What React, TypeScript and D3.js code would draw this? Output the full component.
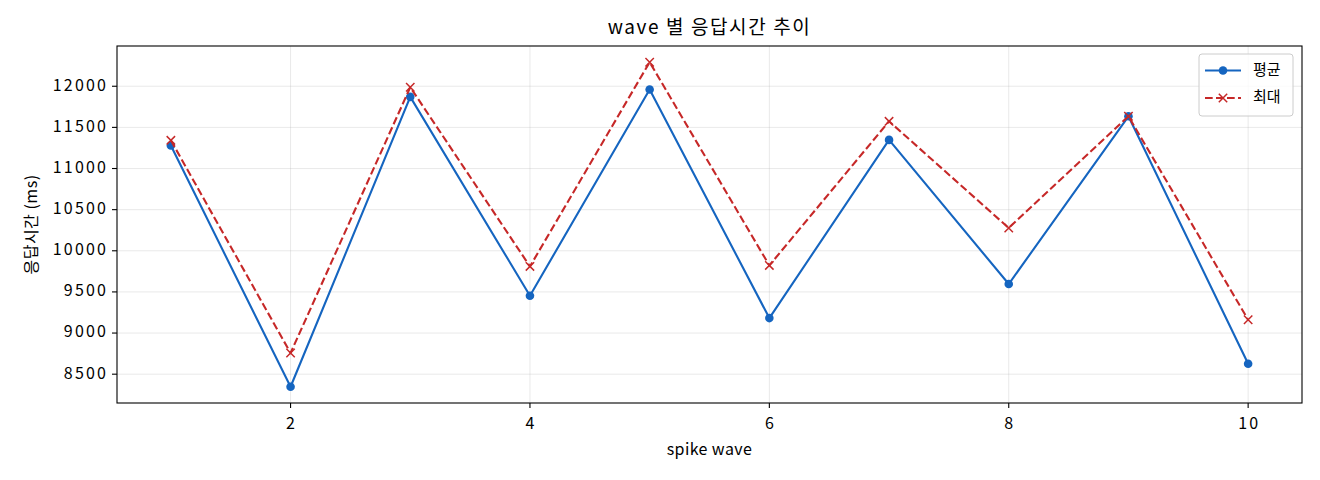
import { useEffect } from 'react'
import * as d3 from 'd3'

// spike wave 번호별 응답시간 (ms)
const waves = [1, 2, 3, 4, 5, 6, 7, 8, 9, 10]
const avgMs = [11279, 8347, 11871, 9454, 11960, 9182, 11348, 9596, 11635, 8627]
const maxMs = [11343, 8757, 11988, 9810, 12292, 9822, 11574, 10277, 11635, 9162]
const xTicks = [2, 4, 6, 8, 10]
const yTicks = [8500, 9000, 9500, 10000, 10500, 11000, 11500, 12000]
const SERIES = [
  { name: '평균', values: avgMs, color: '#1565c0', dash: null as string | null, marker: 'o' },
  { name: '최대', values: maxMs, color: '#c62828', dash: '7.7 3.3', marker: 'x' },
]

const W = 1320
const H = 480
const M = { t: 46, r: 18, b: 77, l: 117 }
const FONT = '"Noto Sans CJK KR", "Noto Sans", sans-serif'

export default function App() {
  useEffect(() => {
    document.body.style.margin = '0'
  }, [])

  const x0 = d3.min(waves)!
  const x1 = d3.max(waves)!
  const xPad = (x1 - x0) * 0.05
  const x = d3.scaleLinear().domain([x0 - xPad, x1 + xPad]).range([M.l, W - M.r])

  const all = [...avgMs, ...maxMs]
  const y0 = d3.min(all)!
  const y1 = d3.max(all)!
  const yPad = (y1 - y0) * 0.05
  const y = d3.scaleLinear().domain([y0 - yPad, y1 + yPad]).range([H - M.b, M.t])

  const line = d3.line<number>().x((_, i) => x(waves[i])).y((v) => y(v))

  const top = M.t
  const bottom = H - M.b
  const left = M.l
  const right = W - M.r

  // legend placement (upper right)
  const lgX = 1199
  const lgY = 54
  const lgW = 94
  const lgH = 62
  const rowY = [lgY + 16.5, lgY + 44]
  const tickLS = 2.2

  return (
    <svg width={W} height={H} style={{ display: 'block', background: '#fff' }} fontFamily={FONT}>
      <rect width={W} height={H} fill="#fff" />

      {/* grid */}
      {xTicks.map((t) => (
        <line key={'gx' + t} x1={x(t)} x2={x(t)} y1={top} y2={bottom} stroke="#b0b0b0" strokeOpacity={0.35} strokeWidth={0.8} />
      ))}
      {yTicks.map((t) => (
        <line key={'gy' + t} x1={left} x2={right} y1={y(t)} y2={y(t)} stroke="#b0b0b0" strokeOpacity={0.35} strokeWidth={0.8} />
      ))}

      {/* series */}
      {SERIES.map((s) => (
        <g key={s.name}>
          <path d={line(s.values)!} fill="none" stroke={s.color} strokeWidth={2.1} strokeDasharray={s.dash ?? undefined} strokeLinejoin="round" />
          {s.values.map((v, i) =>
            s.marker === 'o' ? (
              <circle key={i} cx={x(waves[i])} cy={y(v)} r={4.3} fill={s.color} />
            ) : (
              <path key={i} d={`M${x(waves[i]) - 4.2},${y(v) - 4.2}L${x(waves[i]) + 4.2},${y(v) + 4.2}M${x(waves[i]) - 4.2},${y(v) + 4.2}L${x(waves[i]) + 4.2},${y(v) - 4.2}`} stroke={s.color} strokeWidth={1.5} fill="none" />
            )
          )}
        </g>
      ))}

      {/* frame */}
      <rect x={left} y={top} width={right - left} height={bottom - top} fill="none" stroke="#000" strokeWidth={1.1} />

      {/* x axis */}
      {xTicks.map((t) => (
        <g key={'xt' + t}>
          <line x1={x(t)} x2={x(t)} y1={bottom} y2={bottom + 5} stroke="#000" strokeWidth={1.1} />
          <text x={x(t) + tickLS / 2} y={bottom + 22} textAnchor="middle" dominantBaseline="middle" fontSize={16} fill="#000" letterSpacing={tickLS}>{t}</text>
        </g>
      ))}
      {/* y axis */}
      {yTicks.map((t) => (
        <g key={'yt' + t}>
          <line x1={left - 5} x2={left} y1={y(t)} y2={y(t)} stroke="#000" strokeWidth={1.1} />
          <text x={left - 11 + tickLS} y={y(t)} textAnchor="end" dominantBaseline="middle" fontSize={16} fill="#000" letterSpacing={tickLS}>{t}</text>
        </g>
      ))}

      <text x={(left + right) / 2} y={451} textAnchor="middle" dominantBaseline="middle" fontSize={16} fill="#000" letterSpacing={0.4}>spike wave</text>
      <text transform={`translate(33,${(top + bottom) / 2}) rotate(-90)`} textAnchor="middle" dominantBaseline="middle" fontSize={16} fill="#000" letterSpacing={0.5}>응답시간 (ms)</text>
      <text x={(left + right) / 2} y={29} textAnchor="middle" dominantBaseline="middle" fontSize={19} fill="#000" letterSpacing={1.6}>wave 별 응답시간 추이</text>

      {/* legend */}
      <rect x={lgX} y={lgY} width={lgW} height={lgH} rx={3} fill="#fff" fillOpacity={0.8} stroke="#cccccc" strokeWidth={1} />
      {SERIES.map((s, i) => (
        <g key={'lg' + s.name}>
          <line x1={lgX + 6} x2={lgX + 42} y1={rowY[i]} y2={rowY[i]} stroke={s.color} strokeWidth={2.1} strokeDasharray={s.dash ?? undefined} />
          {s.marker === 'o' ? (
            <circle cx={lgX + 24} cy={rowY[i]} r={4.3} fill={s.color} />
          ) : (
            <path d={`M${lgX + 19.8},${rowY[i] - 4.2}L${lgX + 28.2},${rowY[i] + 4.2}M${lgX + 19.8},${rowY[i] + 4.2}L${lgX + 28.2},${rowY[i] - 4.2}`} stroke={s.color} strokeWidth={1.5} />
          )}
          <text x={lgX + 54} y={rowY[i]} dominantBaseline="middle" fontSize={15} fill="#000">{s.name}</text>
        </g>
      ))}
    </svg>
  )
}
